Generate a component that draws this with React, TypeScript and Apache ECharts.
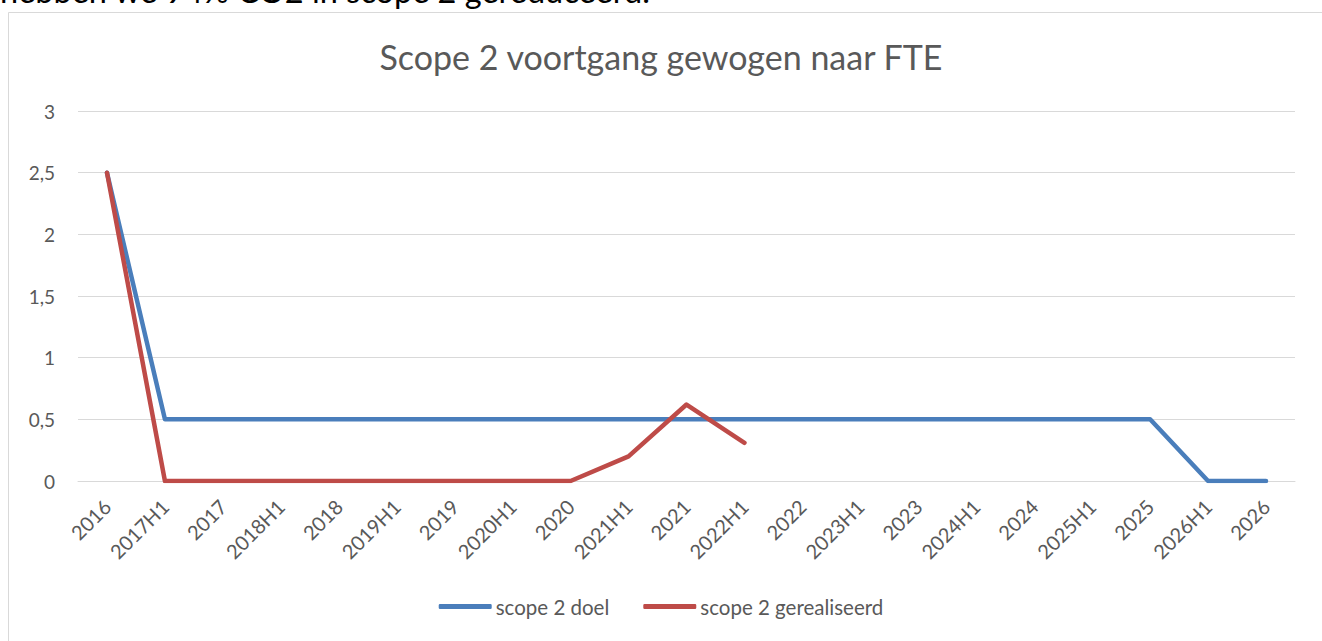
import React, { useEffect, useRef } from "react";
import * as echarts from "echarts";

const categories = [
  "2016", "2017H1", "2017", "2018H1", "2018", "2019H1", "2019", "2020H1", "2020",
  "2021H1", "2021", "2022H1", "2022", "2023H1", "2023", "2024H1", "2024", "2025H1",
  "2025", "2026H1", "2026",
];
const doelValues = [2.5, 0.5, 0.5, 0.5, 0.5, 0.5, 0.5, 0.5, 0.5, 0.5, 0.5, 0.5, 0.5, 0.5, 0.5, 0.5, 0.5, 0.5, 0.5, 0, 0];
const gerealiseerdValues = [2.5, 0, 0, 0, 0, 0, 0, 0, 0, 0.2, 0.62, 0.31];
const titleText = "Scope 2 voortgang gewogen naar FTE";
const headerText = "hebben we 94% CO2 in scope 2 gereduceerd.";

const FONT = "Lato, 'Noto Sans', sans-serif";

export default function App() {
  const ref = useRef<HTMLDivElement>(null);
  useEffect(() => {
    if (!ref.current) return;
    const chart = echarts.init(ref.current, undefined, { renderer: "svg" });
    chart.setOption({
      animation: false,
      backgroundColor: "#ffffff",
      textStyle: { fontFamily: FONT },
      graphic: [
        {
          type: "text",
          left: 0,
          top: -26,
          z: 0,
          style: { text: headerText, fontSize: 32.5, fontFamily: FONT, fill: "#000000" },
        },
        {
          type: "rect",
          shape: { x: 8.5, y: 12.5, width: 1330, height: 650 },
          z: 1,
          style: { fill: "#ffffff", stroke: "#d9d9d9", lineWidth: 1 },
        },
      ],
      title: {
        text: titleText,
        left: "center",
        top: 34,
        textStyle: { fontFamily: FONT, fontSize: 34, fontWeight: "normal", color: "#595959" },
        z: 10,
      },
      legend: {
        bottom: 19,
        left: "center",
        icon: "roundRect",
        itemWidth: 53,
        itemHeight: 5,
        itemGap: 34,
        textStyle: { fontFamily: FONT, fontSize: 20.5, color: "#595959", padding: [0, 0, 0, -1] },
        data: ["scope 2 doel", "scope 2 gerealiseerd"],
        z: 10,
      },
      grid: { left: 78, right: 27, top: 111, bottom: 160, containLabel: false, z: 10 },
      xAxis: {
        type: "category",
        data: categories,
        boundaryGap: true,
        axisLine: { show: true, lineStyle: { color: "#d9d9d9", width: 1 } },
        axisTick: { show: false },
        axisLabel: {
          rotate: 45,
          interval: 0,
          margin: 22,
          fontFamily: FONT,
          fontSize: 20,
          color: "#595959",
        },
        z: 10,
      },
      yAxis: {
        type: "value",
        min: 0,
        max: 3,
        interval: 0.5,
        axisLine: { show: false },
        axisTick: { show: false },
        splitLine: { lineStyle: { color: "#d9d9d9", width: 1 } },
        axisLabel: {
          margin: 23,
          fontFamily: FONT,
          fontSize: 19,
          color: "#595959",
          formatter: (v: number) => String(v).replace(".", ","),
        },
        z: 10,
      },
      series: [
        {
          name: "scope 2 doel",
          type: "line",
          data: doelValues,
          symbol: "none",
          color: "#4a7ebb",
          lineStyle: { width: 4.5, color: "#4a7ebb", cap: "round", join: "round" },
          z: 10,
        },
        {
          name: "scope 2 gerealiseerd",
          type: "line",
          data: gerealiseerdValues,
          symbol: "none",
          color: "#be4b48",
          lineStyle: { width: 4.5, color: "#be4b48", cap: "round", join: "round" },
          z: 11,
        },
      ],
    });
    return () => chart.dispose();
  }, []);
  return (
    <div
      ref={ref}
      style={{ position: "fixed", left: 0, top: 0, width: 1322, height: 641 }}
    />
  );
}
